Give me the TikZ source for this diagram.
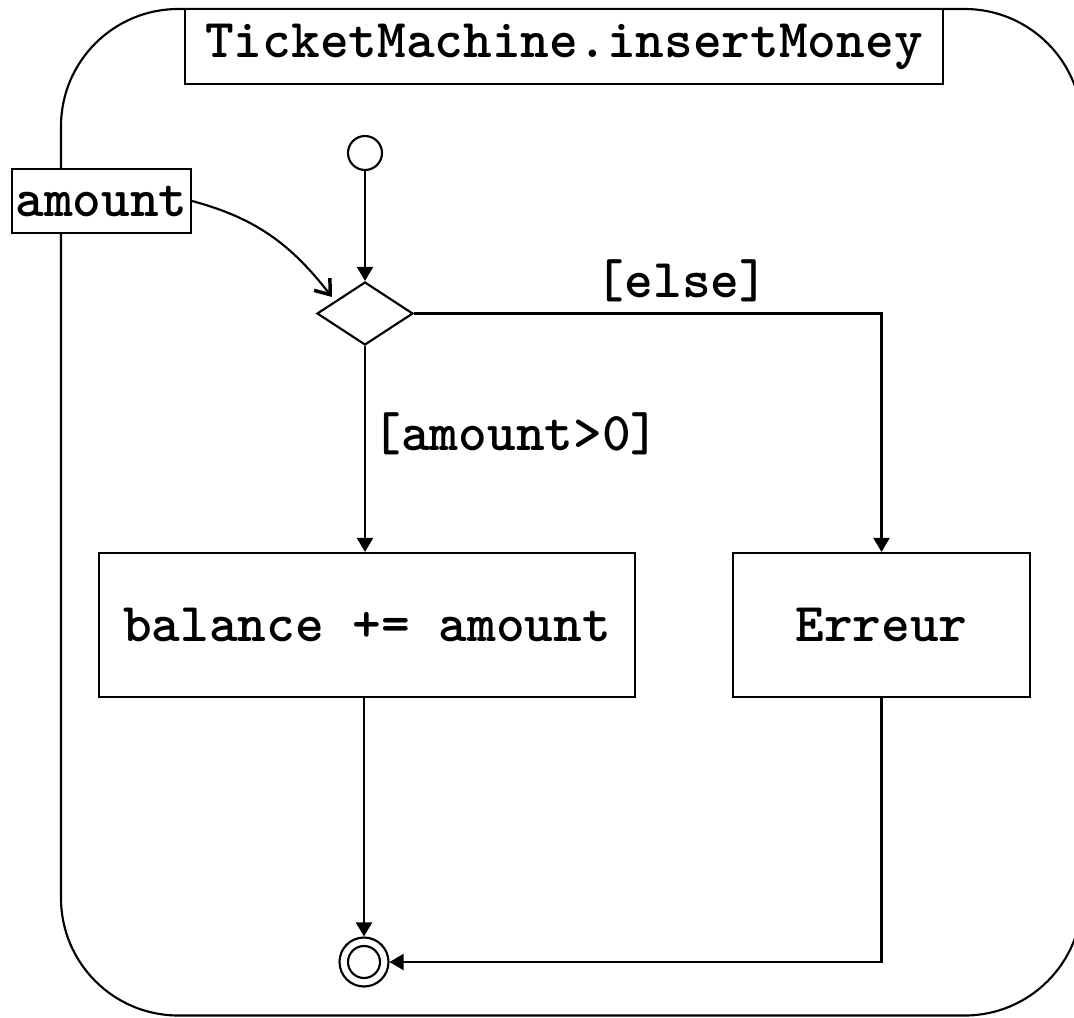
\documentclass[tikz,border=0pt]{standalone}
\usepackage{fontspec}
\usetikzlibrary{arrows.meta,shapes.geometric}
\begin{document}
\begin{tikzpicture}[x=0.75pt,y=-0.75pt,
  every node/.style={font=\fontsize{41}{45}\selectfont\ttfamily\bfseries},
  ln/.style={line width=1.6pt},
  flow/.style={ln,-{Triangle[length=10.5pt,width=12pt]}},
  pin/.style={ln,-{Straight Barb[length=10pt,width=15pt,line width=2.6pt]}},
  boxnode/.style={draw,ln,fill=white,rectangle,inner sep=0pt},
  lbl/.style={inner sep=0pt}
]
\useasboundingbox (0,0) rectangle (1074,1017);
\begin{scope}
\clip (0,0) rectangle (1074,1017);
\draw[ln,rounded corners=88pt] (61,9) rectangle (1082,1015.5);
\end{scope}

\node[boxnode,minimum width=758*0.75pt,minimum height=75*0.75pt] (title) at (564,46.5) {TicketMachine.insertMoney};
\node[boxnode,minimum width=179*0.75pt,minimum height=64*0.75pt] (amount) at (101.5,201) {amount};

\node[draw,ln,circle,minimum size=34*0.75pt,inner sep=0pt] (init) at (365,153) {};
\node[draw,ln,diamond,aspect=1.52,minimum width=96*0.75pt,minimum height=63*0.75pt,inner sep=0pt] (dec) at (365,313.5) {};
\node[boxnode,minimum width=536*0.75pt,minimum height=144*0.75pt] (bal) at (367,625) {balance += amount};
\node[boxnode,minimum width=297*0.75pt,minimum height=144*0.75pt] (err) at (881.5,625) {Erreur};
\node[draw,ln,circle,minimum size=49*0.75pt,inner sep=0pt] (final) at (364,962) {};
\draw[ln] (final.center) circle (16);

\coordinate (pinend) at (332,297);

\draw[flow] (init) -- (dec.north);
\draw[flow] (dec.east) -| (err.north);
\draw[flow] (dec.south) -- (dec.south |- bal.north);
\draw[flow] (bal.south -| final) -- (final.north);
\draw[flow] (err.south) |- (final.east);
\draw[pin] (amount.east) to[out=-15,in=128] (pinend);

\node[lbl] (elselbl) at (682,281) {[else]};
\node[lbl] (gtlbl) at (516,434) {[amount>0]};
\end{tikzpicture}
\end{document}
